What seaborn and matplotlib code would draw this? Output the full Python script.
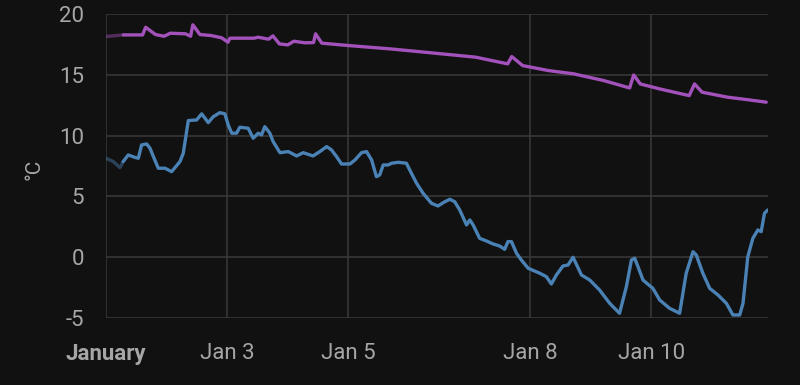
import matplotlib
matplotlib.use("Agg")
import matplotlib.pyplot as plt
import seaborn as sns
import pandas as pd

# hours since Jan 1 00:00 and temperatures
indoor_hours = [0, 6.9, 14.5, 15.7, 19.6, 23.0, 25.5, 31.5, 33.5, 34.4, 37.2, 41.6,
                45.8, 48.3, 49.1, 58.6, 60.2, 64.4, 66.1, 68.7, 72.0, 74.4, 78.8,
                82.2, 83.0, 85.5, 95.8, 112.6, 126.2, 146.4, 159.1, 160.7, 165.0,
                175.2, 185.2, 197.1, 207.4, 209.0, 211.6, 219.3, 231.0, 233.1,
                236.1, 246.2, 254.7, 261.5]
indoor_temp = [18.14, 18.27, 18.27, 18.90, 18.30, 18.16, 18.41, 18.36, 18.16, 19.10,
               18.30, 18.22, 18.03, 17.67, 18.00, 18.00, 18.08, 17.92, 18.19, 17.53,
               17.45, 17.75, 17.62, 17.64, 18.36, 17.59, 17.40, 17.12, 16.85, 16.44,
               15.89, 16.49, 15.75, 15.34, 15.07, 14.52, 13.91, 14.98, 14.24, 13.83,
               13.28, 14.24, 13.56, 13.15, 12.93, 12.74]

outdoor_hours = [0, 2.9, 5.5, 6.8, 8.8, 11.5, 12.8, 14.1, 16.1, 17.4, 20.7, 23.4,
                 26.0, 29.3, 30.6, 32.6, 35.9, 37.9, 40.5, 42.5, 45.1, 47.1, 48.4,
                 49.8, 51.7, 53.0, 56.3, 58.3, 60.3, 61.6, 62.9, 64.9, 66.2, 68.9,
                 72.2, 75.5, 78.1, 82.0, 84.7, 87.4, 89.3, 91.3, 93.3, 96.6, 98.6,
                 101.2, 103.2, 105.2, 107.1, 108.4, 109.8, 111.7, 113.1, 115.7,
                 119.0, 120.3, 123.0, 125.6, 128.9, 131.5, 134.2, 136.2, 138.1,
                 140.1, 142.8, 144.1, 145.4, 148.0, 150.7, 153.3, 155.9, 157.9,
                 159.2, 160.6, 162.6, 164.5, 167.2, 171.8, 174.4, 176.4, 178.4,
                 181.0, 183.0, 185.0, 188.3, 191.6, 195.5, 199.5, 203.4, 206.1,
                 208.1, 209.4, 210.7, 212.7, 216.6, 219.3, 223.2, 227.2, 229.8,
                 232.5, 233.8, 236.4, 239.1, 242.4, 245.7, 248.3, 251.0, 252.3,
                 254.2, 256.2, 258.2, 259.5, 260.8, 262.1]
outdoor_temp = [8.13, 7.86, 7.36, 7.86, 8.40, 8.20, 8.13, 9.23, 9.31, 8.96, 7.31, 7.31,
                7.03, 7.86, 8.54, 11.23, 11.28, 11.78, 11.06, 11.55, 11.88, 11.78,
                10.87, 10.19, 10.19, 10.68, 10.60, 9.78, 10.19, 10.05, 10.73, 10.19,
                9.50, 8.59, 8.68, 8.32, 8.59, 8.32, 8.68, 9.09, 8.82, 8.27, 7.66,
                7.66, 7.99, 8.59, 8.68, 7.99, 6.62, 6.76, 7.58, 7.58, 7.72, 7.80,
                7.72, 7.17, 6.08, 5.25, 4.43, 4.21, 4.56, 4.76, 4.56, 3.88, 2.65,
                3.06, 2.65, 1.55, 1.33, 1.09, 0.92, 0.65, 1.28, 1.28, 0.32, -0.23,
                -0.91, -1.32, -1.60, -2.20, -1.46, -0.72, -0.64, -0.01, -1.46, -1.88,
                -2.70, -3.79, -4.61, -2.43, -0.23, -0.09, -0.78, -1.88, -2.56, -3.52,
                -4.20, -4.61, -1.32, 0.45, 0.18, -1.32, -2.56, -3.11, -3.79, -4.75,
                -4.75, -3.79, 0.04, 1.55, 2.24, 2.10, 3.61, 3.88]

tick_days = [1, 3, 5, 8, 10]
tick_labels = ["January", "Jan 3", "Jan 5", "Jan 8", "Jan 10"]
y_ticks = [-5, 0, 5, 10, 15, 20]

bg = "#111111"
grid = "#3a3a3a"
text = "#a6a6a6"
purple = "#a452bb"
blue = "#4a82b5"

sns.set_theme(style="dark", rc={
    "axes.facecolor": bg,
    "figure.facecolor": bg,
    "axes.grid": True,
    "grid.color": grid,
    "grid.linewidth": 1.1,
    "xtick.color": grid,
    "ytick.color": grid,
    "xtick.labelcolor": text,
    "ytick.labelcolor": text,
    "axes.labelcolor": text,
    "axes.unicode_minus": False,
})
plt.rcParams["font.family"] = ["Roboto", "DejaVu Sans"]

start = pd.Timestamp("2024-01-01")
indoor = pd.DataFrame({"time": start + pd.to_timedelta(indoor_hours, unit="h"),
                       "temp": indoor_temp})
outdoor = pd.DataFrame({"time": start + pd.to_timedelta(outdoor_hours, unit="h"),
                        "temp": outdoor_temp})

fig = plt.figure(figsize=(8, 3.85), dpi=100)
ax = fig.add_axes([0.1325, 0.174, 0.8275, 0.79])

# faded first stretch, then the full line
for df, col in [(indoor, purple), (outdoor, blue)]:
    early = df[df.time <= start + pd.Timedelta(hours=7)]
    late = df[df.time >= early.time.iloc[-1]]
    sns.lineplot(data=early, x="time", y="temp", color=col, alpha=0.45,
                 linewidth=2.4, estimator=None, sort=False, ax=ax)
    sns.lineplot(data=late, x="time", y="temp", color=col,
                 linewidth=2.4, estimator=None, sort=False, ax=ax)

ax.set_xlim(start, start + pd.Timedelta(hours=262.2))
ax.set_ylim(-5, 20)
ax.set_yticks(y_ticks)
ax.set_xticks([start + pd.Timedelta(days=d - 1) for d in tick_days])
ax.set_xticklabels(tick_labels)
ax.get_xticklabels()[0].set_fontweight("bold")
ax.tick_params(axis="both", length=11, width=1.1, labelsize=16)
ax.tick_params(axis="x", pad=7)
ax.tick_params(axis="y", pad=5)
for s in ax.spines.values():
    s.set_visible(False)

ax.set_xlabel("")
ax.set_ylabel("°C", fontsize=15)
ax.yaxis.set_label_coords(-0.094, 0.49)

fig.savefig("out.png", dpi=100, facecolor=bg)
